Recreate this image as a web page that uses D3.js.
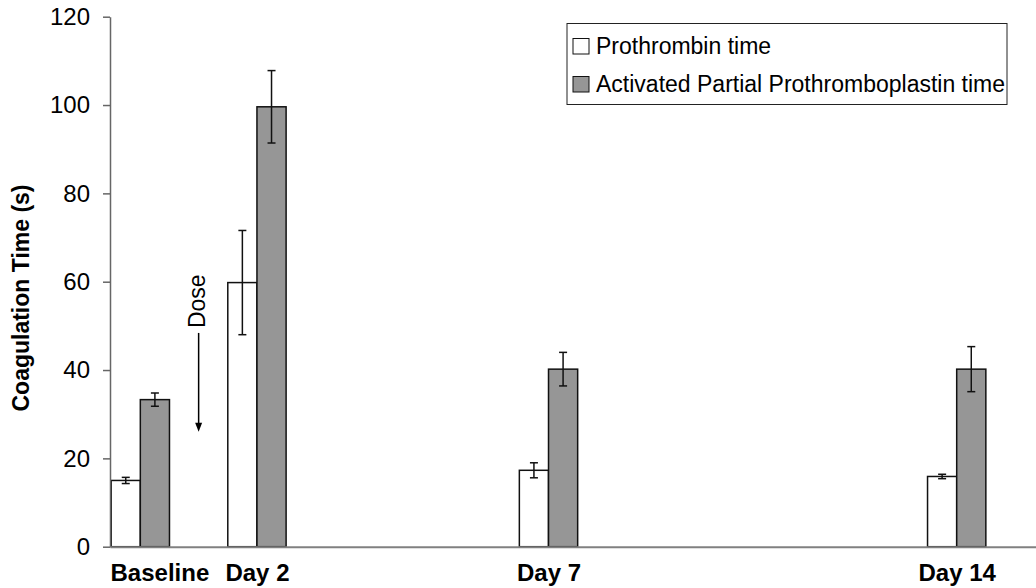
<!DOCTYPE html>
<html>
<head>
<meta charset="utf-8">
<script src="https://cdn.jsdelivr.net/npm/d3@7"></script>
<style>
  body { margin: 0; background: #fff; }
  svg { display: block; font-family: "Liberation Sans", Arial, sans-serif; }
</style>
</head>
<body>
<div id="chart"></div>
<script>
// data
var categories = ["Baseline", "Day 2", "Day 7", "Day 14"];
var days = [0, 2, 7, 14];
var ptMean = [15.0, 59.8, 17.3, 15.9];
var ptErr = [0.7, 11.8, 1.7, 0.5];
var apttMean = [33.3, 99.6, 40.2, 40.2];
var apttErr = [1.5, 8.2, 3.8, 5.1];
var yTicks = [0, 20, 40, 60, 80, 100, 120];
var seriesNames = ["Prothrombin time", "Activated Partial Prothromboplastin time"];

var W = 1036, H = 588;
var m = [16.7, 0, 41.3, 110]; // top right bottom left
var w = W - m[1] - m[3];
var h = H - m[0] - m[2];

var x = d3.scaleLinear().domain([-0.52, 15.36]).range([0, w]);
var y = d3.scaleLinear().domain([0, 120]).range([h, 0]);
var barW = x(0.5) - x(0); // half a day per bar

var svg = d3.select("#chart").append("svg")
  .attr("width", W)
  .attr("height", H);

var g = svg.append("g")
  .attr("transform", "translate(" + m[3] + "," + m[0] + ")");

var series = [
  {name: seriesNames[0], mean: ptMean, err: ptErr, fill: "#ffffff", off: -1},
  {name: seriesNames[1], mean: apttMean, err: apttErr, fill: "#969696", off: 0}
];

// bars
series.forEach(function(s) {
  var d = days.map(function(day, i) { return {day: day, v: s.mean[i], e: s.err[i]}; });
  g.selectAll(null).data(d).enter().append("rect")
    .attr("x", function(p) { return x(p.day) + s.off * barW; })
    .attr("y", function(p) { return y(p.v); })
    .attr("width", barW)
    .attr("height", function(p) { return y(0) - y(p.v); })
    .attr("fill", s.fill)
    .attr("stroke", "#111")
    .attr("stroke-width", 1.5);

  // error bars
  var eb = g.selectAll(null).data(d).enter().append("g")
    .attr("stroke", "#111")
    .attr("stroke-width", 1.5);
  var cx = function(p) { return x(p.day) + s.off * barW + barW / 2; };
  eb.append("line")
    .attr("x1", cx).attr("x2", cx)
    .attr("y1", function(p) { return y(p.v + p.e); })
    .attr("y2", function(p) { return y(p.v - p.e); });
  [1, -1].forEach(function(sign) {
    eb.append("line")
      .attr("x1", function(p) { return cx(p) - 4; })
      .attr("x2", function(p) { return cx(p) + 4; })
      .attr("y1", function(p) { return y(p.v + sign * p.e); })
      .attr("y2", function(p) { return y(p.v + sign * p.e); });
  });
});

// y axis
var yAxis = d3.axisLeft(y).tickValues(yTicks).tickSize(7).tickSizeOuter(0).tickPadding(13);
var ya = g.append("g").call(yAxis)
  .attr("font-family", null)
  .attr("font-size", 24);
ya.selectAll("path, line").attr("stroke", "#666").attr("stroke-width", 1.5);
ya.selectAll("text").attr("fill", "#000");

// x axis
var xAxis = d3.axisBottom(x).tickValues(days).tickSize(0).tickSizeOuter(0).tickPadding(17)
  .tickFormat(function(d, i) { return categories[i]; });
var xa = g.append("g")
  .attr("transform", "translate(0," + h + ")")
  .call(xAxis)
  .attr("font-family", null)
  .attr("font-size", 24)
  .attr("font-weight", "bold");
xa.select(".domain").attr("stroke", "#808080").attr("stroke-width", 2);
xa.selectAll("text").attr("fill", "#000").each(function(d) {
  // keep the first label from spilling left of the axis
  var t = d3.select(this);
  var len = this.getComputedTextLength();
  if (x(d) - len / 2 < 0) {
    t.attr("text-anchor", "start").attr("x", -x(d));
  }
});

// y title
svg.append("text")
  .attr("transform", "translate(28.5," + 298 + ") rotate(-90)")
  .attr("text-anchor", "middle")
  .attr("font-size", 23)
  .attr("font-weight", "bold")
  .text("Coagulation Time (s)");

// dose annotation
var doseDay = 1;
var ann = g.append("g");
ann.append("text")
  .attr("transform", "translate(" + (x(doseDay) + 6.5) + "," + y(49.5) + ") rotate(-90)")
  .attr("font-size", 23)
  .text("Dose");
ann.append("line")
  .attr("x1", x(doseDay)).attr("x2", x(doseDay))
  .attr("y1", y(48.4)).attr("y2", y(26) - 8)
  .attr("stroke", "#000").attr("stroke-width", 1.5);
ann.append("path")
  .attr("d", "M" + (x(doseDay) - 3.5) + "," + (y(26) - 9) + "L" + (x(doseDay) + 3.5) + "," + (y(26) - 9) + "L" + x(doseDay) + "," + y(26) + "Z")
  .attr("fill", "#000");

// legend
var lg = svg.append("g").attr("transform", "translate(567,23.5)");
lg.append("rect")
  .attr("width", 440).attr("height", 81)
  .attr("fill", "#fff").attr("stroke", "#222").attr("stroke-width", 1);
series.forEach(function(s, i) {
  var row = lg.append("g").attr("transform", "translate(6," + (15 + i * 38) + ")");
  row.append("rect")
    .attr("width", 16).attr("height", 15.5)
    .attr("fill", s.fill).attr("stroke", "#111").attr("stroke-width", 1);
  row.append("text")
    .attr("x", 23).attr("y", 15.5)
    .attr("font-size", 23)
    .text(s.name);
});
</script>
</body>
</html>
